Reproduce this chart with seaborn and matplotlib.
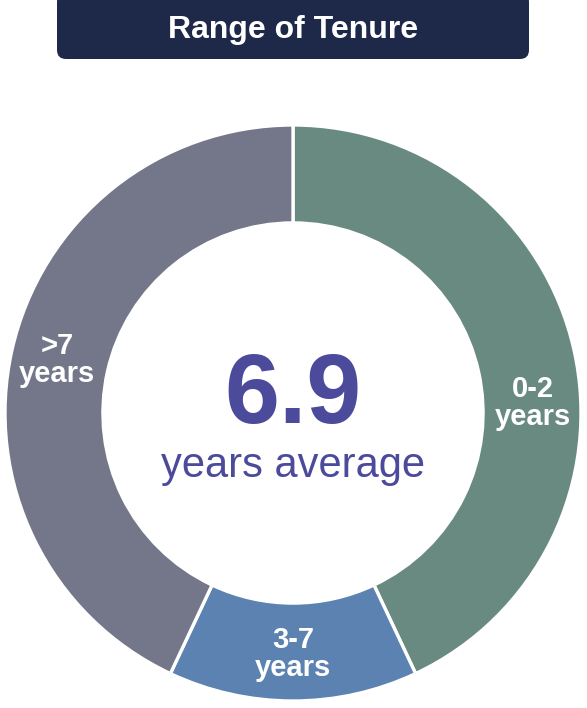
import matplotlib
matplotlib.use("Agg")
import matplotlib.pyplot as plt
from matplotlib.patches import FancyBboxPatch
import seaborn as sns

# data
categories = ["0-2\nyears", "3-7\nyears", ">7\nyears"]
shares = [43, 14, 43]
colors = ["#698a80", "#5b82b0", "#737789"]
average_value = "6.9"
average_label = "years average"
title = "Range of Tenure"

# where each wedge label sits (data coords, pie radius = 1)
label_pos = [(0.833, 0.035), (0.0, -0.837), (-0.819, 0.184)]

sns.set_style("white")
plt.rcParams["font.family"] = ["Liberation Sans", "DejaVu Sans"]

fig = plt.figure(figsize=(5.87, 7.08), dpi=100)

# title banner
banner = FancyBboxPatch(
    (0.57, 6.49), 4.72, 0.66,
    boxstyle="round,pad=0,rounding_size=0.09",
    transform=fig.dpi_scale_trans,
    facecolor="#1e2849", edgecolor="none",
)
fig.patches.append(banner)
fig.text(0.4995, 1 - 38 / 708, title, color="white", fontsize=23,
         fontweight="bold", ha="center", va="baseline")

# donut
ax = fig.add_axes([5 / 587, 7 / 708, 576 / 587, 576 / 708])
ax.pie(
    shares,
    colors=colors,
    startangle=90,
    counterclock=False,
    radius=1,
    wedgeprops=dict(width=0.34, edgecolor="white", linewidth=2.4),
)
ax.set_xlim(-1, 1)
ax.set_ylim(-1, 1)
ax.set_aspect("equal")
ax.axis("off")

for label, (x, y) in zip(categories, label_pos):
    ax.text(x, y, label, color="white", fontsize=21, fontweight="bold",
            ha="center", va="center", linespacing=1.0)

ax.text(0, -0.035, average_value, color="#4b4a9b", fontsize=71,
        fontweight="bold", ha="center", va="baseline")
ax.text(0, -0.222, average_label, color="#4b4a9b", fontsize=30,
        ha="center", va="baseline")

fig.savefig("out.png", dpi=100)
